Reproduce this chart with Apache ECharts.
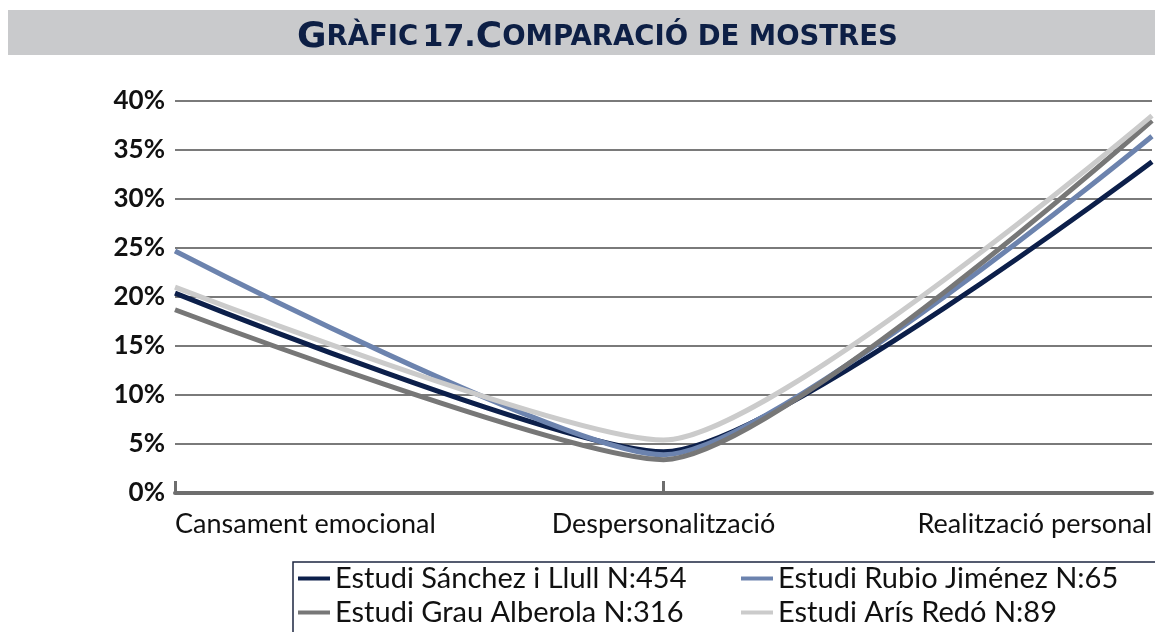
<!DOCTYPE html>
<html>
<head>
<meta charset="utf-8">
<script src="https://cdn.jsdelivr.net/npm/echarts@6/dist/echarts.min.js"></script>
<style>
  html, body { margin: 0; padding: 0; background: #fff; }
  #chart { width: 1155px; height: 632px; }
</style>
</head>
<body>
<div id="chart"></div>
<script>
  // categories and values (percent)
  var categories = ['Cansament emocional', 'Despersonalització', 'Realització personal'];
  var sanchez = [20.4, 4.2, 33.8];
  var rubio = [24.7, 3.9, 36.4];
  var grau = [18.7, 3.4, 38.0];
  var aris = [21.0, 5.4, 38.5];

  var names = [
    'Estudi Sánchez i Llull N:454',
    'Estudi Rubio Jiménez N:65',
    'Estudi Grau Alberola N:316',
    'Estudi Arís Redó N:89'
  ];
  var colors = ['#0c1f4a', '#6c83ae', '#777777', '#cbcbcb'];
  var font = 'Lato, "Open Sans", sans-serif';
  var titleFont = '"DejaVu Sans", sans-serif';

  function makeLine (name, data, color) {
    return {
      name: name,
      type: 'line',
      data: data,
      smooth: 0.2,
      symbol: 'none',
      itemStyle: { color: color },
      lineStyle: { color: color, width: 5 }
    };
  }

  // one legend per entry so the two columns line up like the original box
  function legendItem (name, left, top) {
    return {
      data: [name],
      left: left,
      top: top,
      icon: 'rect',
      itemWidth: 32,
      itemHeight: 4,
      padding: 0,
      textStyle: { fontSize: 29, color: '#111' }
    };
  }

  var myChart = echarts.init(document.getElementById('chart'));
  myChart.setOption({
    animation: false,
    textStyle: { fontFamily: font },
    title: {
      text: '{a|G}{b|RÀFIC} {c|17.}{a|C}{b|OMPARACIÓ DE MOSTRES}',
      left: 292,
      top: 15,
      textStyle: {
        rich: {
          a: { fontSize: 36, fontWeight: 'bold', color: '#0d1f45', fontFamily: titleFont },
          b: { fontSize: 27.5, fontWeight: 'bold', color: '#0d1f45', fontFamily: titleFont },
          c: { fontSize: 30, fontWeight: 'bold', color: '#0d1f45', fontFamily: titleFont }
        }
      }
    },
    graphic: [
      {
        type: 'rect',
        z: -10,
        shape: { x: 8, y: 10, width: 1147, height: 45 },
        style: { fill: '#c9cacc' }
      },
      {
        type: 'rect',
        z: -10,
        shape: { x: 293, y: 562, width: 900, height: 100 },
        style: { fill: 'none', stroke: '#1c2640', lineWidth: 1.5 }
      }
    ],
    legend: [
      legendItem(names[0], 298, 564),
      legendItem(names[2], 298, 598),
      legendItem(names[1], 741, 564),
      legendItem(names[3], 741, 598)
    ],
    grid: { left: 175, right: 0, top: 101, bottom: 139, containLabel: false },
    xAxis: {
      type: 'category',
      boundaryGap: false,
      data: categories,
      axisLine: { lineStyle: { color: '#6e6e6e', width: 4 } },
      axisTick: {
        show: true,
        inside: true,
        length: 12,
        interval: function (idx) { return idx < 2; },
        lineStyle: { color: '#6e6e6e', width: 3 }
      },
      axisLabel: {
        fontSize: 27,
        color: '#111',
        margin: 18,
        alignMinLabel: 'left',
        alignMaxLabel: 'right'
      }
    },
    yAxis: {
      type: 'value',
      min: 0,
      max: 40,
      interval: 5,
      axisLine: { show: false },
      axisTick: { show: false },
      splitLine: { lineStyle: { color: '#7a7a7a', width: 2 } },
      axisLabel: {
        formatter: '{value}%',
        fontSize: 26,
        fontWeight: 'bold',
        color: '#111',
        margin: 10
      }
    },
    series: [
      makeLine(names[0], sanchez, colors[0]),
      makeLine(names[1], rubio, colors[1]),
      makeLine(names[2], grau, colors[2]),
      makeLine(names[3], aris, colors[3])
    ]
  });
</script>
</body>
</html>
